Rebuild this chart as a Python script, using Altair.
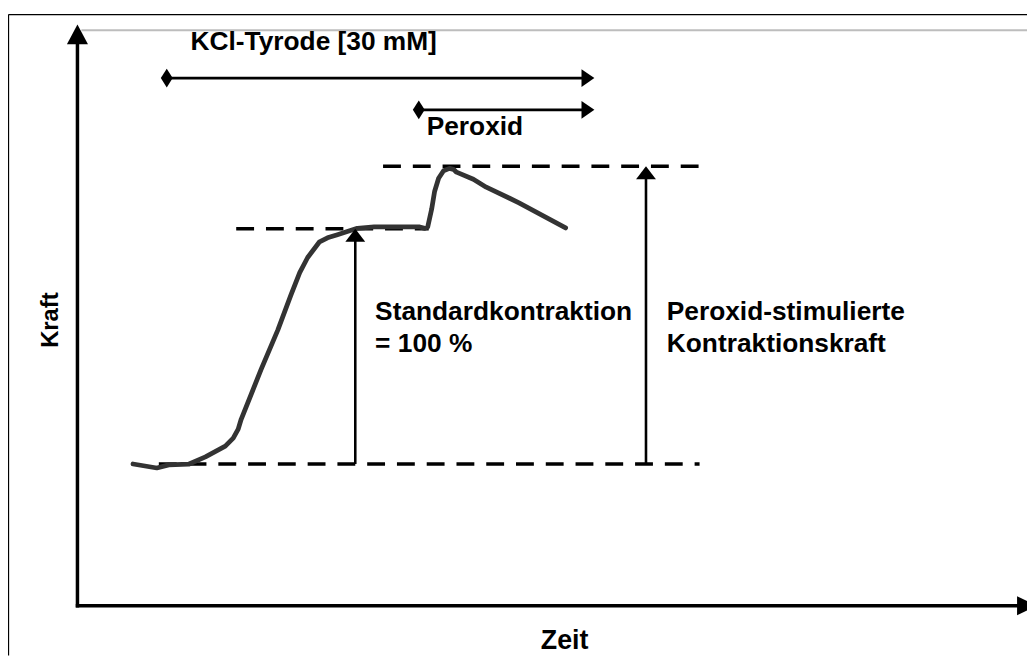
import altair as alt
import pandas as pd

# ---------------- data (schematic force trace) ----------------
# Zeit in arbitrary time units, Kraft in % of the standard contraction
curve_zeit = [5.6, 8.0, 9.2, 11.2, 12.9, 14.9, 15.7, 16.2, 16.5, 18.5, 20.2, 21.5,
              22.4, 23.2, 24.4, 25.2, 26.2, 28.2, 29.9, 34.5, 35.0, 35.3, 35.7, 36.0,
              36.4, 36.9, 37.5, 37.9, 38.2, 39.9, 41.2, 43.5, 44.5, 49.2]
curve_kraft = [0.0, -1.7, -0.4, -0.1, 3.0, 7.6, 11.0, 14.8, 19.0, 40.1, 57.0, 71.7,
               81.4, 87.8, 94.5, 96.2, 97.5, 100.2, 100.8, 100.8, 100.2, 100.8, 108.4, 116.0,
               121.5, 124.7, 125.7, 125.3, 124.1, 121.1, 117.7, 113.1, 111.0, 100.4]

# dashed reference levels
level_names = ["Basis", "Standardkontraktion", "Peroxid-Maximum"]
level_kraft = [0.0, 100.0, 126.6]
level_start = [8.2, 16.0, 30.8]
level_end = [62.7, 35.4, 62.9]

# vertical measuring arrows
varrow_zeit = [28.0, 57.3]
varrow_from = [0.0, 0.0]
varrow_to = [100.0, 126.6]

# application periods (top arrows)
period_names = ["KCl-Tyrode [30 mM]", "Peroxid"]
period_start = [9.0, 34.4]
period_end = [52.1, 52.1]
period_kraft = [164.1, 150.6]

# text labels
label_text = ["KCl-Tyrode [30 mM]", "Peroxid", "Standardkontraktion", "= 100 %",
              "Peroxid-stimulierte", "Kontraktionskraft"]
label_zeit = [11.4, 35.2, 30.0, 30.0, 59.4, 59.4]
label_kraft = [176.1, 139.7, 61.2, 47.7, 61.2, 47.7]

# axes (drawn as arrows)
axis_origin_zeit = 0.0
axis_origin_kraft = -60.3
axis_y_tip = 186.9
axis_x_tip = 96.7
x_title, x_title_zeit, x_title_kraft = "Zeit", 49.1, -78.5
y_title, y_title_zeit, y_title_kraft = "Kraft", -2.0, 61.2

# frame
frame_left, frame_top = -6.95, 191.1
grey_line_kraft, grey_line_start = 184.4, 0.4

# ---------------- scales ----------------
PX_X = 10.0   # px per Zeit unit
PX_Y = 2.37   # px per Kraft unit
W, H = 1027, 650
x_dom = [-7.0, -7.0 + W / PX_X]
y_dom = [192.83 - H / PX_Y, 192.83]
xs = alt.Scale(domain=x_dom, nice=False, zero=False)
ys = alt.Scale(domain=y_dom, nice=False, zero=False)
FONT = "Liberation Sans"


def X(f):
    return alt.X(f, type="quantitative", scale=xs, axis=None)


def Y(f):
    return alt.Y(f, type="quantitative", scale=ys, axis=None)


# ---------------- frame (left and top edges, running off the picture) ----------------
frame_v_df = pd.DataFrame({"x": [frame_left], "y": [frame_top], "y2": [y_dom[0]]})
frame_v = alt.Chart(frame_v_df).mark_rule(color="black", strokeWidth=1.3).encode(
    x=X("x"), y=Y("y"), y2="y2")
frame_h_df = pd.DataFrame({"x": [frame_left], "x2": [x_dom[1]], "y": [frame_top]})
frame_h = alt.Chart(frame_h_df).mark_rule(color="black", strokeWidth=1.3).encode(
    x=X("x"), x2="x2", y=Y("y"))

grey_df = pd.DataFrame({"x": [grey_line_start], "x2": [x_dom[1]], "y": [grey_line_kraft]})
grey = alt.Chart(grey_df).mark_rule(color="#bdbdbd", strokeWidth=2).encode(x=X("x"), x2="x2", y=Y("y"))

# ---------------- axes ----------------
yaxis_df = pd.DataFrame({"x": [axis_origin_zeit], "y": [axis_origin_kraft - 0.7], "y2": [axis_y_tip - 18 / PX_Y]})
yaxis = alt.Chart(yaxis_df).mark_rule(color="black", strokeWidth=3.5).encode(x=X("x"), y=Y("y"), y2="y2")
xaxis_df = pd.DataFrame({"x": [axis_origin_zeit - 0.17], "x2": [axis_x_tip - 1.8], "y": [axis_origin_kraft]})
xaxis = alt.Chart(xaxis_df).mark_rule(color="black", strokeWidth=3.5).encode(x=X("x"), x2="x2", y=Y("y"))

yhead_df = pd.DataFrame({"x": [axis_origin_zeit], "y": [axis_y_tip]})
yhead = alt.Chart(yhead_df).mark_point(shape="M0,0L0.53,1L-0.53,1Z", filled=True, size=1600,
                                       color="black", opacity=1, strokeWidth=0).encode(x=X("x"), y=Y("y"))
xhead_df = pd.DataFrame({"x": [axis_x_tip], "y": [axis_origin_kraft]})
xhead = alt.Chart(xhead_df).mark_point(shape="M0,0L-1,-0.48L-1,0.48Z", filled=True, size=1600,
                                       color="black", opacity=1, strokeWidth=0, clip=True).encode(x=X("x"), y=Y("y"))

axis_titles_df = pd.DataFrame({"t": [x_title], "x": [x_title_zeit], "y": [x_title_kraft]})
xtitle = alt.Chart(axis_titles_df).mark_text(align="center", baseline="alphabetic", font=FONT,
                                             fontSize=27, fontWeight="bold", color="black").encode(
    x=X("x"), y=Y("y"), text="t:N")
ytitle_df = pd.DataFrame({"t": [y_title], "x": [y_title_zeit], "y": [y_title_kraft]})
ytitle = alt.Chart(ytitle_df).mark_text(align="center", baseline="alphabetic", angle=270, font=FONT,
                                        fontSize=24, fontWeight="bold", color="black").encode(
    x=X("x"), y=Y("y"), text="t:N")

# ---------------- dashed levels ----------------
level_df = pd.DataFrame({"name": level_names, "k": level_kraft, "x": level_start, "x2": level_end})
levels = alt.Chart(level_df).mark_rule(color="black", strokeWidth=3.5, strokeDash=[18, 12]).encode(
    x=X("x"), x2="x2", y=Y("k"))

# ---------------- curve ----------------
curve_df = pd.DataFrame({"Zeit": curve_zeit, "Kraft": curve_kraft})
curve = alt.Chart(curve_df).mark_line(color="#333333", strokeWidth=4.8, strokeCap="round",
                                      strokeJoin="round", interpolate="linear").encode(
    x=X("Zeit"), y=Y("Kraft"), order=alt.Order("Zeit:Q"))

# ---------------- vertical arrows ----------------
va_df = pd.DataFrame({"x": varrow_zeit, "y": varrow_from,
                      "y2": [v - 10 / PX_Y for v in varrow_to], "tip": varrow_to})
va_shaft = alt.Chart(va_df).mark_rule(color="black", strokeWidth=2.6).encode(x=X("x"), y=Y("y"), y2="y2")
va_head = alt.Chart(va_df).mark_point(shape="M0,0L0.77,1L-0.77,1Z", filled=True, size=676,
                                      color="black", opacity=1, strokeWidth=0).encode(x=X("x"), y=Y("tip"))

# ---------------- period arrows ----------------
pa_df = pd.DataFrame({"name": period_names, "x": period_start,
                      "x2": [v - 10 / PX_X for v in period_end], "tip": period_end, "y": period_kraft})
pa_shaft = alt.Chart(pa_df).mark_rule(color="black", strokeWidth=2.6).encode(x=X("x"), x2="x2", y=Y("y"))
pa_head = alt.Chart(pa_df).mark_point(shape="M0,0L-1,-0.69L-1,0.69Z", filled=True, size=676,
                                      color="black", opacity=1, strokeWidth=0).encode(x=X("tip"), y=Y("y"))
pa_start = alt.Chart(pa_df).mark_point(shape="M0,-1L0.63,0L0,1L-0.63,0Z", filled=True, size=361,
                                       color="black", opacity=1, strokeWidth=0).encode(x=X("x"), y=Y("y"))

# ---------------- labels ----------------
lab_df = pd.DataFrame({"t": label_text, "x": label_zeit, "y": label_kraft})
labels = alt.Chart(lab_df).mark_text(align="left", baseline="alphabetic", font=FONT,
                                     fontSize=26.5, fontWeight="bold", color="black").encode(
    x=X("x"), y=Y("y"), text="t:N")

chart = alt.layer(frame_v, frame_h, grey, levels, curve, va_shaft, va_head, pa_shaft, pa_head, pa_start,
                  yaxis, xaxis, yhead, xhead, xtitle, ytitle, labels).properties(
    width=W, height=H, autosize=alt.AutoSizeParams(type="none"), padding=0,
    background="white").configure_view(stroke=None)

chart.save("out.html", embed_options={"renderer": "svg", "actions": False})
